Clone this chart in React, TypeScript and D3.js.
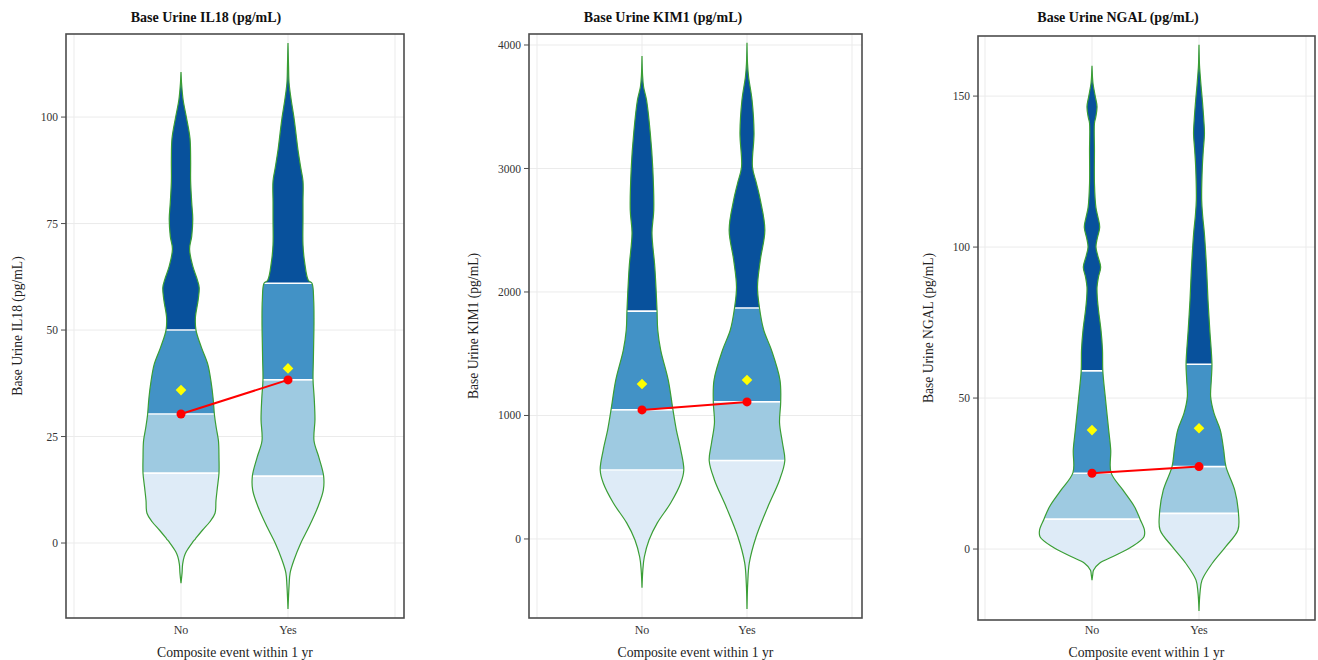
import React from 'react';
import * as d3 from 'd3';

const categories = ['No', 'Yes'];
const xTitle = 'Composite event within 1 yr';

// density profiles: [value, relative density (% of category spacing)]
const il18Ticks = [0, 25, 50, 75, 100];
const il18No = [[110.6,0],[108,0.5],[104,2],[100,5],[95,8.4],[90,9],[85,9],[80,10],[76,11],[72,10],[69,8],[65,11],[62,15],[60,17],[57,16],[53,13.5],[50,14],[46,19],[42,25],[38,28],[34,30],[30,31.3],[27,33],[24,35],[20,35.5],[16.4,35.5],[13,34],[10,32.7],[7,31.8],[5,27],[3,20],[1,13.5],[0,10.3],[-2,5],[-3.2,3],[-5,1.5],[-7,1],[-9.4,0]];
const il18Yes = [[117.4,0],[112,0.5],[108,1],[104,3],[100,5.5],[96,7.5],[92.3,9.3],[88,12],[85,14],[80,14],[76,14],[70,14],[66,15.5],[61.7,19],[61,22.4],[57,24],[52,24.3],[47,24],[43,23.7],[38.3,23.4],[34,24.5],[29,25.2],[24,24.3],[20,29],[15.7,33.3],[12.4,33],[8.5,28],[3.8,19.6],[0,12],[-4,5.6],[-7,2],[-10,1],[-15.5,0]];
const il18Quartiles = [[16.4, 30.3, 50], [15.7, 38.3, 61]];
const il18Means = [35.9, 41];

const kim1Ticks = [0, 1000, 2000, 3000, 4000];
const kim1No = [[3911,0],[3760,0.5],[3662,1.5],[3555,4.3],[3285,7.9],[3012,10.2],[2664,11.2],[2477,9.5],[2202,12.2],[1854,14.3],[1692,15],[1530,17.8],[1287,25],[1045,29.5],[883,32.7],[721,36.9],[559,39.8],[453,36.9],[291,27.3],[130,14.6],[-8,6.7],[-146,2.2],[-251,0.8],[-394,0]];
const kim1Yes = [[4019,0],[3850,0.5],[3743,1.5],[3555,4.8],[3287,6.7],[3012,5.2],[2880,9],[2745,12.7],[2502,17],[2259,12.7],[2040,10],[1870,11.9],[1692,15.9],[1530,23.3],[1287,31.4],[1112,32.1],[939,31],[777,33.8],[634,36],[478,31],[259,19.8],[16,8.6],[-194,2.2],[-356,0.7],[-567,0]];
const kim1Quartiles = [[559, 1045, 1845], [634, 1110, 1870]];
const kim1Means = [1255, 1287];

const ngalTicks = [0, 50, 100, 150];
const ngalNo = [[160,0],[156,0.5],[154,1],[150,3],[146.5,4.7],[143,3.5],[141,2.3],[132,2.3],[121,2.3],[113,3.7],[110,5.5],[106.6,7.2],[103,5],[100,3.7],[97,5.5],[93.4,8.1],[90,6],[86.8,4.7],[83,5],[79,6.1],[72.5,8.4],[66,9.8],[59,10.1],[50.4,12.4],[39.4,15.6],[32.8,17.5],[25.3,17.8],[19.5,29],[14,39.7],[9.9,44.9],[6.3,49],[4.1,48.6],[0.8,37.4],[-2.5,19.6],[-4.7,7],[-7,1.4],[-8.5,0.7],[-10.3,0]];
const ngalYes = [[167,0],[160,0.5],[157.5,1],[153,2],[148.7,3.1],[142,4.5],[137.7,5.1],[132,4],[126.5,3.1],[115.6,2.5],[110,3.5],[104.6,5],[93.4,7],[82.5,8.4],[72.5,10.1],[61.2,12.1],[56,11.5],[50.4,10.9],[45,14],[39.4,19.9],[33,23],[27.3,25.2],[19.5,33.4],[11.8,36.9],[6.3,36.4],[0.8,25],[-4.7,12.4],[-10.3,2.8],[-14.6,0.9],[-20.5,0]];
const ngalQuartiles = [[9.9, 25.1, 59], [11.8, 27.3, 61.2]];
const ngalMeans = [39.4, 40];

const bandColors = ['#deebf7', '#9ecae1', '#4292c6', '#08519c'];
const font = '"Liberation Serif", "DejaVu Serif", serif';

const panels = [
  { id: 'il18', title: 'Base Urine IL18 (pg/mL)', ticks: il18Ticks, dens: [il18No, il18Yes], q: il18Quartiles, means: il18Means,
    frame: [66, 404, 34, 618], xr: [74, 395], yd: [-17.6, 119.5], titleX: 206, yLabX: 17 },
  { id: 'kim1', title: 'Base Urine KIM1 (pg/mL)', ticks: kim1Ticks, dens: [kim1No, kim1Yes], q: kim1Quartiles, means: kim1Means,
    frame: [529, 862, 34, 618], xr: [537, 852], yd: [-640, 4089], titleX: 663, yLabX: 473 },
  { id: 'ngal', title: 'Base Urine NGAL (pg/mL)', ticks: ngalTicks, dens: [ngalNo, ngalYes], q: ngalQuartiles, means: ngalMeans,
    frame: [978, 1315, 36, 620], xr: [985, 1306], yd: [-23.5, 169.9], titleX: 1118, yLabX: 928 },
];

function Panel({ p }) {
  const [L, R, T, B] = p.frame;
  const x = d3.scaleLinear().domain([0, 3]).range(p.xr);
  const y = d3.scaleLinear().domain(p.yd).range([B, T]);
  const step = x(1) - x(0);
  const w = d3.scaleLinear().domain([0, 100]).range([0, step]);

  const medians = p.q.map((q, i) => [x(i + 1), y(q[1])]);
  const diamond = d3.symbol(d3.symbolDiamond2, 72)();

  return (
    <g>
      {/* grid */}
      {p.ticks.map(t => (
        <line key={'h' + t} x1={L} x2={R} y1={y(t)} y2={y(t)} stroke="#ebebeb" strokeWidth={1} />
      ))}
      {[0, 1, 2, 3].map(v => (
        <line key={'v' + v} x1={x(v)} x2={x(v)} y1={T} y2={B} stroke="#ebebeb" strokeWidth={1} />
      ))}

      {p.dens.map((dd, i) => {
        const cx = x(i + 1);
        const area = d3.area()
          .y(d => y(d[0]))
          .x0(d => cx - w(d[1]))
          .x1(d => cx + w(d[1]))
          .curve(d3.curveCatmullRom.alpha(0.5));
        const path = area(dd);
        const vmax = d3.max(dd, d => d[0]);
        const vmin = d3.min(dd, d => d[0]);
        const maxW = w(d3.max(dd, d => d[1])) + 4;
        const edges = [vmin, ...p.q[i], vmax];
        const clipId = `clip-${p.id}-${i}`;
        return (
          <g key={i}>
            <clipPath id={clipId}><path d={path} /></clipPath>
            <g clipPath={`url(#${clipId})`}>
              {bandColors.map((c, k) => (
                <rect key={k} x={cx - maxW} width={maxW * 2}
                  y={y(edges[k + 1]) - 0.5} height={y(edges[k]) - y(edges[k + 1]) + 1} fill={c} />
              ))}
              {p.q[i].map((qv, k) => (
                <line key={'q' + k} x1={cx - maxW} x2={cx + maxW} y1={y(qv)} y2={y(qv)} stroke="#ffffff" strokeWidth={1.6} />
              ))}
            </g>
            <path d={path} fill="none" stroke="#3a9e35" strokeWidth={1.2} />
          </g>
        );
      })}

      <path d={d3.line()(medians)} stroke="#ff0000" strokeWidth={2} fill="none" />
      {medians.map((m, i) => (
        <circle key={'m' + i} cx={m[0]} cy={m[1]} r={4.5} fill="#ff0000" />
      ))}
      {p.means.map((mv, i) => (
        <path key={'d' + i} d={diamond} transform={`translate(${x(i + 1)},${y(mv)})`} fill="#ffff00" />
      ))}

      {/* frame */}
      <rect x={L} y={T} width={R - L} height={B - T} fill="none" stroke="#4d4d4d" strokeWidth={1.6} />

      {/* y axis */}
      {p.ticks.map(t => (
        <g key={'t' + t}>
          <line x1={L - 5} x2={L} y1={y(t)} y2={y(t)} stroke="#4d4d4d" strokeWidth={1} />
          <text x={L - 8} y={y(t)} dy="0.35em" textAnchor="end" fontSize={11.5} fill="#333" fontFamily={font}>{t}</text>
        </g>
      ))}
      {categories.map((c, i) => (
        <text key={c} x={x(i + 1)} y={634} textAnchor="middle" fontSize={12} fill="#333" fontFamily={font}>{c}</text>
      ))}

      <text x={p.titleX} y={22} textAnchor="middle" fontSize={14} fontWeight="bold" fill="#111" fontFamily={font}>{p.title}</text>
      <text x={(L + R) / 2} y={657} textAnchor="middle" fontSize={13.7} fill="#222" fontFamily={font}>{xTitle}</text>
      <text transform={`translate(${p.yLabX},${(T + B) / 2}) rotate(-90)`} dy="0.35em" textAnchor="middle" fontSize={13.6} fill="#222" fontFamily={font}>{p.title}</text>
    </g>
  );
}

export default function App() {
  return (
    <svg width={1318} height={660} style={{ position: 'absolute', left: 0, top: 0, background: '#fff' }}>
      <rect width={1318} height={660} fill="#fff" />
      {panels.map(p => <Panel key={p.id} p={p} />)}
    </svg>
  );
}
